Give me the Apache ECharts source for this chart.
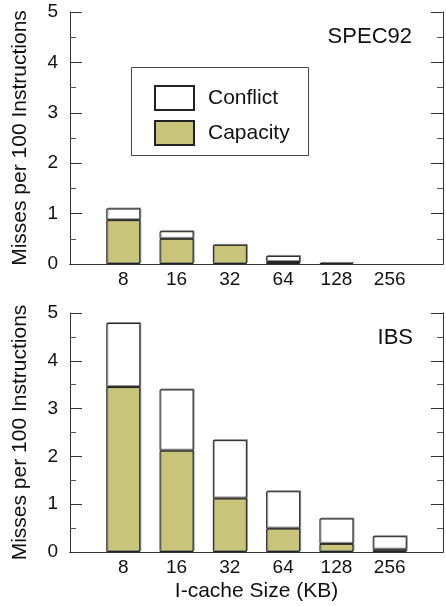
<!DOCTYPE html>
<html>
<head>
<meta charset="utf-8">
<script src="https://cdn.jsdelivr.net/npm/echarts@6/dist/echarts.min.js"></script>
<style>
html,body{margin:0;padding:0;background:#fff;}
#chart{width:446px;height:606px;}
</style>
</head>
<body>
<div id="chart"></div>
<script>
// ---- data ----
var cacheSizes = ['8', '16', '32', '64', '128', '256'];
var specCapacity = [0.87, 0.50, 0.38, 0.04, 0.02, 0];
var specConflict = [0.23, 0.15, 0.00, 0.12, 0.00, 0];
var ibsCapacity = [3.45, 2.12, 1.12, 0.49, 0.17, 0.05];
var ibsConflict = [1.34, 1.28, 1.22, 0.78, 0.53, 0.28];
var yTicks = [0, 1, 2, 3, 4, 5];
var panelLabels = ['SPEC92', 'IBS'];
var yTitle = 'Misses per 100 Instructions';
var xTitle = 'I-cache Size (KB)';
var seriesNames = ['Conflict', 'Capacity'];

// ---- build ----
var FONT = '"Liberation Sans", Arial, Helvetica, sans-serif';
var cats = [''].concat(cacheSizes).concat(['']);
function pad(arr) {
  return ['-'].concat(arr.map(function (v) { return v === 0 ? '-' : v; })).concat(['-']);
}

var grids = [
  { left: 70, top: 12, width: 380, height: 252 },
  { left: 70, top: 313, width: 380, height: 239 }
];

var xAxes = [], yAxes = [], series = [];
[0, 1].forEach(function (g) {
  xAxes.push({
    type: 'category', gridIndex: g, data: cats, boundaryGap: false,
    axisLine: { show: true, lineStyle: { color: '#333', width: 1 } },
    axisTick: { show: false },
    axisLabel: { show: true, color: '#111', fontSize: 19, fontFamily: FONT, margin: 6, interval: 0 },
    name: g === 1 ? xTitle : '', nameLocation: 'middle', nameGap: 29,
    nameTextStyle: { color: '#111', fontSize: 21, fontFamily: FONT }
  });
  xAxes.push({
    type: 'category', gridIndex: g, data: cats, boundaryGap: false, position: 'top',
    axisLine: { show: true, lineStyle: { color: '#333', width: 1 } },
    axisTick: { show: false }, axisLabel: { show: false }
  });
  var tickCommon = {
    axisTick: { show: true, inside: true, length: 12, lineStyle: { color: '#333' } },
    minorTick: { show: true, splitNumber: 2, length: 6, lineStyle: { color: '#555' } },
    splitLine: { show: false }, minorSplitLine: { show: false },
    axisLine: { show: true, lineStyle: { color: '#333', width: 1 } }
  };
  yAxes.push(Object.assign({
    type: 'value', gridIndex: g, min: yTicks[0], max: yTicks[yTicks.length - 1], interval: 1,
    axisLabel: { color: '#111', fontSize: 19, fontFamily: FONT, margin: 12,
      formatter: function (v) { return yTicks.indexOf(v) >= 0 ? String(v) : ''; } },
    name: yTitle, nameLocation: 'middle', nameGap: 39,
    nameTextStyle: { color: '#111', fontSize: 21, fontFamily: FONT }
  }, tickCommon));
  yAxes.push(Object.assign({
    type: 'value', gridIndex: g, position: 'right', min: 0, max: 5, interval: 1,
    axisLabel: { show: false }
  }, tickCommon));
});

var barStyleBase = { borderColor: '#222', borderWidth: 1,
  shadowColor: 'rgba(120,120,120,0.8)', shadowOffsetX: 1, shadowOffsetY: -1, shadowBlur: 0 };
var capStyle = Object.assign({ color: '#c8c47a' }, barStyleBase);
var confStyle = Object.assign({ color: '#ffffff' }, barStyleBase);

var caps = [specCapacity, ibsCapacity];
var confs = [specConflict, ibsConflict];
[0, 1].forEach(function (g) {
  series.push({
    name: seriesNames[1], type: 'bar', stack: 's' + g,
    xAxisIndex: g * 2, yAxisIndex: g * 2, barWidth: 34,
    data: pad(caps[g]), itemStyle: capStyle, silent: true, animation: false
  });
  series.push({
    name: seriesNames[0], type: 'bar', stack: 's' + g,
    xAxisIndex: g * 2, yAxisIndex: g * 2, barWidth: 34,
    data: pad(confs[g]), itemStyle: confStyle, silent: true, animation: false
  });
});

var chart = echarts.init(document.getElementById('chart'), null, { renderer: 'canvas' });
chart.setOption({
  animation: false,
  backgroundColor: '#ffffff',
  grid: grids,
  xAxis: xAxes,
  yAxis: yAxes,
  series: series,
  legend: {
    data: seriesNames, orient: 'vertical', left: 154, top: 85, padding: 0,
    icon: 'rect',
    itemWidth: 39, itemHeight: 24, itemGap: 9,
    selectedMode: false,
    itemStyle: { shadowColor: 'transparent', shadowOffsetX: 0, shadowOffsetY: 0 },
    textStyle: { color: '#111', fontSize: 21, lineHeight: 24, fontFamily: FONT, padding: [0, 0, 0, 9] }
  },
  graphic: [
    { type: 'rect', shape: { x: 131.5, y: 67.5, width: 177, height: 88 },
      style: { fill: null, stroke: '#444', lineWidth: 1 }, z: 1 },
    { type: 'text', right: 34, top: 26,
      style: { text: panelLabels[0], fill: '#111', font: '22px ' + FONT } },
    { type: 'text', right: 33, top: 327,
      style: { text: panelLabels[1], fill: '#111', font: '22px ' + FONT } }
  ]
});
</script>
</body>
</html>
